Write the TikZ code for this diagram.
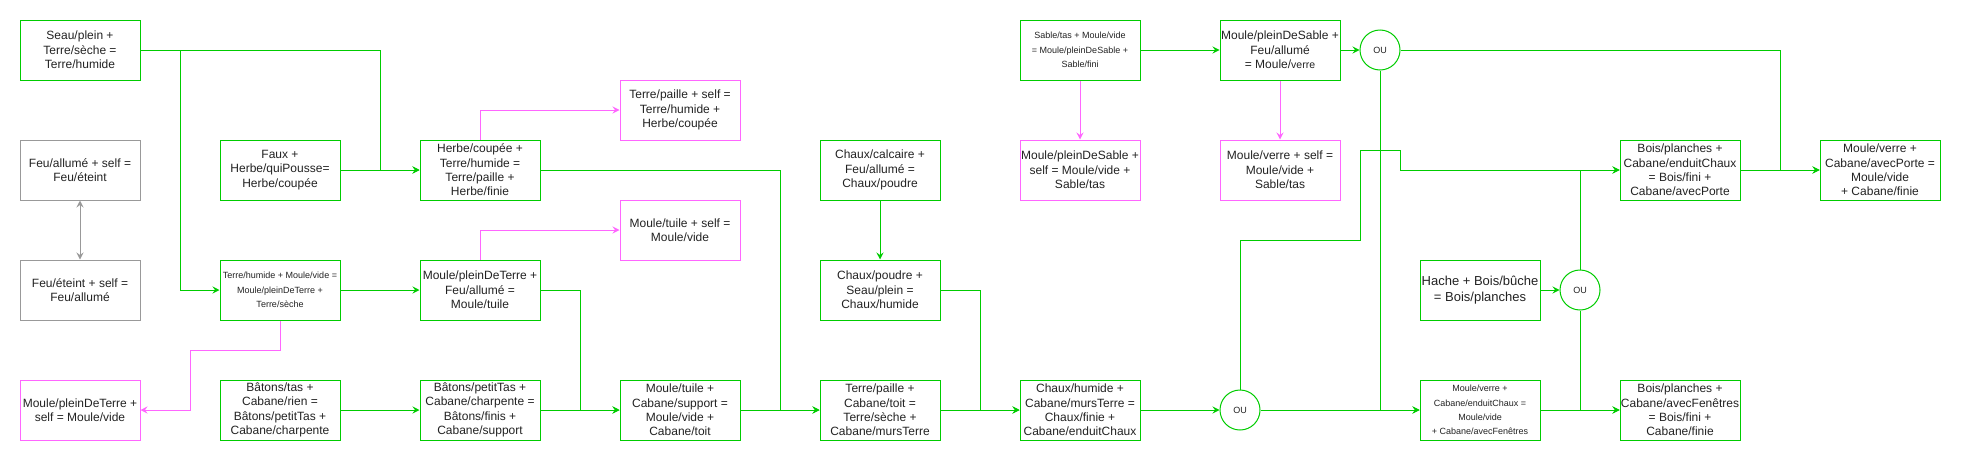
\documentclass[tikz,border=0pt]{standalone}
\usepackage{fontspec}
\setmainfont{Liberation Sans}
\usetikzlibrary{arrows.meta}
\definecolor{gr}{HTML}{00CC00}
\definecolor{pk}{HTML}{FF66FF}
\definecolor{gy}{HTML}{999999}
\definecolor{tx}{HTML}{222222}
\begin{document}
\begin{tikzpicture}[x=1pt,y=-1pt,
  box/.style={draw=gr,line width=1pt,minimum width=120pt,minimum height=60pt,inner sep=0pt,align=center,text=tx,font={\fontsize{12}{14.4}\selectfont}},
  pbox/.style={box,draw=pk},
  gbox/.style={box,draw=gy},
  sm/.style={font={\fontsize{9}{14.4}\selectfont}},
  ou/.style={circle,draw=gr,line width=1pt,minimum size=40pt,inner sep=0pt,text=tx,font={\fontsize{9}{11}\selectfont}},
  tip/.tip={Stealth[length=7pt,width=7pt,inset=2.5pt]},
  ga/.style={draw=gr,line width=1pt,-tip},
  gl/.style={draw=gr,line width=1pt},
  pa/.style={draw=pk,line width=1pt,-tip},
  ya/.style={draw=gy,line width=1pt,tip-tip}]
\path[use as bounding box] (0,0) rectangle (1961,461);
% nodes
\node[box] (seau) at (80,50) {Seau/plein +\\Terre/sèche =\\Terre/humide};
\node[gbox] (feua) at (80,170) {Feu/allumé + self =\\Feu/éteint};
\node[gbox] (feue) at (80,290) {Feu/éteint + self =\\Feu/allumé};
\node[pbox] (mpts) at (80,410) {Moule/pleinDeTerre +\\self = Moule/vide};
\node[box] (faux) at (280,170) {Faux +\\Herbe/quiPousse=\\Herbe/coupée};
\node[box,sm] (thm) at (280,290) {Terre/humide + Moule/vide =\\Moule/pleinDeTerre +\\Terre/sèche};
\node[box] (batons) at (280,410) {Bâtons/tas +\\Cabane/rien =\\Bâtons/petitTas +\\Cabane/charpente};
\node[box] (herbe) at (480,170) {Herbe/coupée +\\Terre/humide =\\Terre/paille +\\Herbe/finie};
\node[box] (mpf) at (480,290) {Moule/pleinDeTerre +\\Feu/allumé =\\Moule/tuile};
\node[box] (bpt) at (480,410) {Bâtons/petitTas +\\Cabane/charpente =\\Bâtons/finis +\\Cabane/support};
\node[pbox] (tps) at (680,110) {Terre/paille + self =\\Terre/humide +\\Herbe/coupée};
\node[pbox] (mts) at (680,230) {Moule/tuile + self =\\Moule/vide};
\node[box] (mtcs) at (680,410) {Moule/tuile +\\Cabane/support =\\Moule/vide +\\Cabane/toit};
\node[box] (cc) at (880,170) {Chaux/calcaire +\\Feu/allumé =\\Chaux/poudre};
\node[box] (cp) at (880,290) {Chaux/poudre +\\Seau/plein =\\Chaux/humide};
\node[box] (tpct) at (880,410) {Terre/paille +\\Cabane/toit =\\Terre/sèche +\\Cabane/mursTerre};
\node[box,sm] (sable) at (1080,50) {Sable/tas + Moule/vide\\= Moule/pleinDeSable +\\Sable/fini};
\node[pbox] (mpss) at (1080,170) {Moule/pleinDeSable +\\self = Moule/vide +\\Sable/tas};
\node[box] (chm) at (1080,410) {Chaux/humide +\\Cabane/mursTerre =\\Chaux/finie +\\Cabane/enduitChaux};
\node[box] (mpsf) at (1280,50) {Moule/pleinDeSable +\\Feu/allumé\\= Moule/{\fontsize{10.5}{14.4}\selectfont verre}};
\node[pbox] (mvs) at (1280,170) {Moule/verre + self =\\Moule/vide +\\Sable/tas};
\node[ou] (ou1) at (1380,50) {OU};
\node[ou] (ou2) at (1240,410) {OU};
\node[box,font={\fontsize{13}{15.4}\selectfont}] (hache) at (1480,290) {Hache + Bois/bûche\\= Bois/planches};
\node[box,sm] (mvec) at (1480,410) {Moule/verre +\\Cabane/enduitChaux =\\Moule/vide\\+ Cabane/avecFenêtres};
\node[ou] (ou3) at (1580,290) {OU};
\node[box] (bpec) at (1680,170) {Bois/planches +\\Cabane/enduitChaux\\= Bois/fini +\\Cabane/avecPorte};
\node[box] (bpaf) at (1680,410) {Bois/planches +\\Cabane/avecFenêtres\\= Bois/fini +\\Cabane/finie};
\node[box] (mvpo) at (1880,170) {Moule/verre +\\Cabane/avecPorte =\\Moule/vide\\+ Cabane/finie};
% junction coordinates
\coordinate (j1) at (380,170);
\coordinate (j2) at (180,50);
\coordinate (j3) at (190,350);
\coordinate (j4) at (580,410);
\coordinate (j5) at (780,410);
\coordinate (j6) at (980,410);
\coordinate (j7) at (1780,170);
\coordinate (k1) at (1240,240);
\coordinate (k2) at (1360,240);
\coordinate (k3) at (1360,150);
\coordinate (k4) at (1400,150);
\coordinate (k5) at (1400,170);
% connectors
\draw[ya] (feue.north) -- (feua.south);
\draw[ga] (seau.east) -| (j1) -- (herbe.west);
\draw[ga] (faux.east) -- (herbe.west);
\draw[ga] (seau.east) -- (j2) |- (thm.west);
\draw[pa] (thm.south) |- (j3) |- (mpts.east);
\draw[ga] (thm.east) -- (mpf.west);
\draw[ga] (batons.east) -- (bpt.west);
\draw[pa] (herbe.north) |- (tps.west);
\draw[pa] (mpf.north) |- (mts.west);
\draw[ga] (mpf.east) -| (j4) -- (mtcs.west);
\draw[ga] (bpt.east) -- (mtcs.west);
\draw[ga] (herbe.east) -| (j5) -- (tpct.west);
\draw[ga] (mtcs.east) -- (tpct.west);
\draw[ga] (cc.south) -- (cp.north);
\draw[ga] (cp.east) -| (j6) -- (chm.west);
\draw[ga] (tpct.east) -- (chm.west);
\draw[ga] (chm.east) -- (ou2.west);
\draw[ga] (sable.east) -- (mpsf.west);
\draw[pa] (sable.south) -- (mpss.north);
\draw[pa] (mpsf.south) -- (mvs.north);
\draw[ga] (mpsf.east) -- (ou1.west);
\draw[ga] (ou1.east) -| (j7) -- (mvpo.west);
\draw[ga] (ou1.south) |- (mvec.west);
\draw[ga] (ou2.east) -- (mvec.west);
\draw[ga] (ou2.north) -- (k1) -- (k2) -- (k3) -- (k4) -- (k5) -- (bpec.west);
\draw[ga] (hache.east) -- (ou3.west);
\draw[ga] (ou3.north) |- (bpec.west);
\draw[ga] (ou3.south) |- (bpaf.west);
\draw[ga] (mvec.east) -- (bpaf.west);
\draw[ga] (bpec.east) -- (mvpo.west);
\end{tikzpicture}
\end{document}
